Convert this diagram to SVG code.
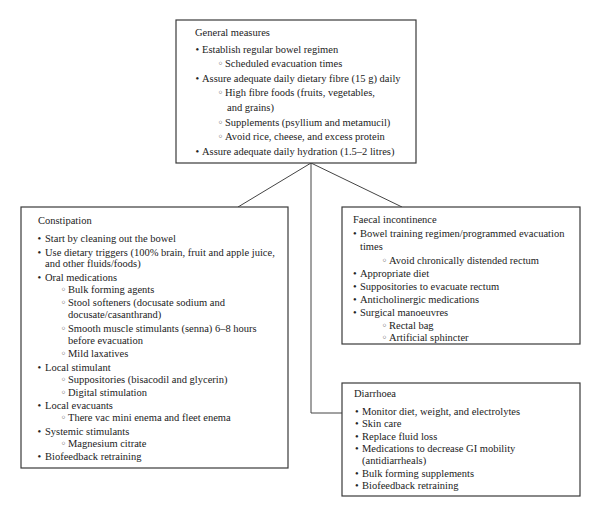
<svg xmlns="http://www.w3.org/2000/svg" width="600" height="519" viewBox="0 0 600 519">
<style>
text{font-family:"Liberation Serif","DejaVu Serif",serif;font-size:10.5px;fill:#222}
.s{font-family:"DejaVu Sans",sans-serif;font-size:10px}
.box{fill:#fff;stroke:#3a3a3a;stroke-width:1.2}
.con{fill:none;stroke:#444;stroke-width:1}
</style>
<rect width="600" height="519" fill="#fff"/>
<g id="connectors">
<line class="con" x1="311" y1="163" x2="238" y2="207"/>
<line class="con" x1="311" y1="163" x2="402" y2="207"/>
<polyline class="con" points="311,163 311,413 342,413"/>
</g>
<g id="general">
<rect class="box" x="176" y="20" width="240" height="143"/>
<text x="195" y="35.5">General measures</text>
<text x="195.5" y="52.5">•</text><text x="202" y="52.5">Establish regular bowel regimen</text>
<text class="s" x="217.5" y="67">◦</text><text x="225" y="67">Scheduled evacuation times</text>
<text x="195.5" y="81.5">•</text><text x="202" y="81.5">Assure adequate daily dietary fibre (15 g) daily</text>
<text class="s" x="217.5" y="96">◦</text><text x="225" y="96">High fibre foods (fruits, vegetables,</text>
<text x="227" y="110.5">and grains)</text>
<text class="s" x="217.5" y="125.5">◦</text><text x="225" y="125.5">Supplements (psyllium and metamucil)</text>
<text class="s" x="217.5" y="140">◦</text><text x="225" y="140">Avoid rice, cheese, and excess protein</text>
<text x="195.5" y="154.5">•</text><text x="202" y="154.5">Assure adequate daily hydration (1.5–2 litres)</text>
</g>
<g id="constipation">
<rect class="box" x="21" y="207" width="267" height="261"/>
<text x="38" y="223.5">Constipation</text>
<text x="37.5" y="241.5">•</text><text x="45" y="241.5">Start by cleaning out the bowel</text>
<text x="37.5" y="255.5">•</text><text x="45" y="255.5">Use dietary triggers (100% brain, fruit and apple juice,</text>
<text x="45" y="266.5">and other fluids/foods)</text>
<text x="37.5" y="280.5">•</text><text x="45" y="280.5">Oral medications</text>
<text class="s" x="60.5" y="292.5">◦</text><text x="68" y="292.5">Bulk forming agents</text>
<text class="s" x="60.5" y="305.5">◦</text><text x="68" y="305.5">Stool softeners (docusate sodium and</text>
<text x="68" y="318">docusate/casanthrand)</text>
<text class="s" x="60.5" y="331.5">◦</text><text x="68" y="331.5">Smooth muscle stimulants (senna) 6–8 hours</text>
<text x="68" y="344">before evacuation</text>
<text class="s" x="60.5" y="356.5">◦</text><text x="68" y="356.5">Mild laxatives</text>
<text x="37.5" y="370.5">•</text><text x="45" y="370.5">Local stimulant</text>
<text class="s" x="60.5" y="382.5">◦</text><text x="68" y="382.5">Suppositories (bisacodil and glycerin)</text>
<text class="s" x="60.5" y="395.5">◦</text><text x="68" y="395.5">Digital stimulation</text>
<text x="37.5" y="408.5">•</text><text x="45" y="408.5">Local evacuants</text>
<text class="s" x="60.5" y="420.5">◦</text><text x="68" y="420.5">There vac mini enema and fleet enema</text>
<text x="37.5" y="434.5">•</text><text x="45" y="434.5">Systemic stimulants</text>
<text class="s" x="60.5" y="446.5">◦</text><text x="68" y="446.5">Magnesium citrate</text>
<text x="37.5" y="459.5">•</text><text x="45" y="459.5">Biofeedback retraining</text>
</g>
<g id="faecal">
<rect class="box" x="342" y="207" width="238" height="137"/>
<text x="353" y="222.5">Faecal incontinence</text>
<text x="353" y="236.5">•</text><text x="360" y="236.5">Bowel training regimen/programmed evacuation</text>
<text x="360" y="250">times</text>
<text class="s" x="381.5" y="263.5">◦</text><text x="389" y="263.5">Avoid chronically distended rectum</text>
<text x="353" y="277">•</text><text x="360" y="277">Appropriate diet</text>
<text x="353" y="290">•</text><text x="360" y="290">Suppositories to evacuate rectum</text>
<text x="353" y="302.5">•</text><text x="360" y="302.5">Anticholinergic medications</text>
<text x="353" y="316">•</text><text x="360" y="316">Surgical manoeuvres</text>
<text class="s" x="381.5" y="329">◦</text><text x="389" y="329">Rectal bag</text>
<text class="s" x="381.5" y="341">◦</text><text x="389" y="341">Artificial sphincter</text>
</g>
<g id="diarrhoea">
<rect class="box" x="342" y="383" width="238" height="113"/>
<text x="354" y="396.5">Diarrhoea</text>
<text x="355" y="414.5">•</text><text x="362" y="414.5">Monitor diet, weight, and electrolytes</text>
<text x="355" y="426.5">•</text><text x="362" y="426.5">Skin care</text>
<text x="355" y="439.5">•</text><text x="362" y="439.5">Replace fluid loss</text>
<text x="355" y="451.5">•</text><text x="362" y="451.5">Medications to decrease GI mobility</text>
<text x="362" y="463.5">(antidiarrheals)</text>
<text x="355" y="476.5">•</text><text x="362" y="476.5">Bulk forming supplements</text>
<text x="355" y="488.5">•</text><text x="362" y="488.5">Biofeedback retraining</text>
</g>
</svg>
